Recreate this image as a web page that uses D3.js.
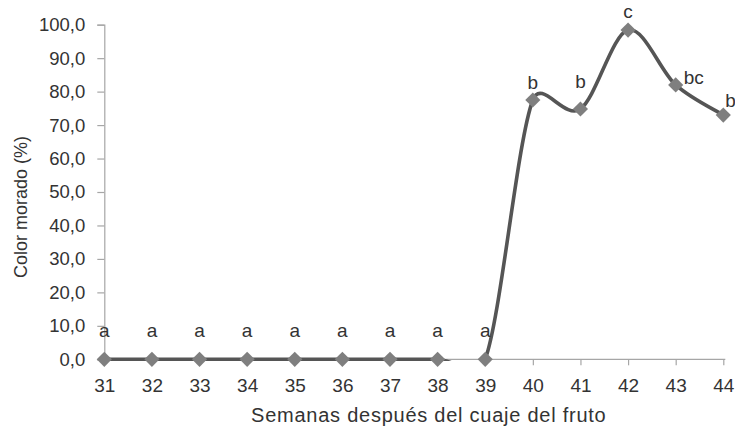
<!DOCTYPE html>
<html>
<head>
<meta charset="utf-8">
<script src="https://cdn.jsdelivr.net/npm/d3@7/dist/d3.min.js"></script>
<style>
  html, body { margin: 0; padding: 0; background: #fff; }
  svg { display: block; font-family: "Liberation Sans", Arial, sans-serif; }
</style>
</head>
<body>
<svg id="chart" width="735" height="426"></svg>
<script>
// ---- data ----
const weeks = [31, 32, 33, 34, 35, 36, 37, 38, 39, 40, 41, 42, 43, 44];
const colorMorado = [0, 0, 0, 0, 0, 0, 0, 0, 0, 77.5, 74.8, 98.4, 82.0, 73.0];
const letters = ["a", "a", "a", "a", "a", "a", "a", "a", "a", "b", "b", "c", "bc", "b"];
const yTicks = [0, 10, 20, 30, 40, 50, 60, 70, 80, 90, 100];
const yTitle = "Color morado (%)";
const xTitle = "Semanas después del cuaje del fruto";

// ---- label placement (style) ----
const labelDx = [0, 0, 0, 0, 0, 0, 0, 0, 0, 0, 0, 0, 8, 2];
const labelDy = [-22, -22, -22, -22, -22, -22, -22, -22, -22, -11, -21, -12, -1, -8];
const labelAnchor = ["middle","middle","middle","middle","middle","middle","middle","middle","middle","middle","middle","middle","start","start"];

const svg = d3.select("#chart");
const x0 = 104.3, x1 = 723.3, yTop = 24.7, yBot = 359.3;

const x = d3.scalePoint().domain(weeks).range([x0, x1]);
const y = d3.scaleLinear().domain([0, 100]).range([yBot, yTop]);

const axisColor = "#a6a6a6";
const textColor = "#333";
const fontFam = "'Liberation Sans', Arial, sans-serif";

// y axis
const yAxis = svg.append("g")
  .attr("transform", `translate(${x0},0)`)
  .call(d3.axisLeft(y).tickValues(yTicks).tickSize(7).tickPadding(12)
    .tickFormat(d => d3.format(".1f")(d).replace(".", ",")));
yAxis.select(".domain").attr("stroke", axisColor).attr("stroke-width", 1.2);
yAxis.selectAll(".tick line").attr("stroke", axisColor).attr("stroke-width", 1.2);
yAxis.selectAll(".tick text").attr("fill", textColor).style("font-size", "18.5px")
  .style("font-family", fontFam);

// x axis
const xAxis = svg.append("g")
  .attr("transform", `translate(0,${yBot})`)
  .call(d3.axisBottom(x).tickSize(6).tickSizeOuter(0).tickPadding(13));
xAxis.select(".domain").attr("stroke", axisColor).attr("stroke-width", 1.2)
  .attr("d", `M${x0},0H${x1 + 2}`);
xAxis.selectAll(".tick line").attr("stroke", axisColor).attr("stroke-width", 1.2);
xAxis.selectAll(".tick text").attr("fill", textColor).style("font-size", "19px")
  .style("font-family", fontFam);

// clip for line
svg.append("defs").append("clipPath").attr("id", "plotclip")
  .append("rect").attr("x", 0).attr("y", 0).attr("width", 735).attr("height", yBot + 1.8);

const pts = weeks.map((w, i) => ({ w, v: colorMorado[i], l: letters[i], i }));

// Excel-style smoothed line (Bezier with limited control arms), in pixel space
function excelSmooth(points) {
  const P = points.map(d => [x(d.w), y(d.v)]);
  const p = d3.path();
  const dist = (a, b) => Math.hypot(a[0] - b[0], a[1] - b[1]);
  const f = 1 / 6;
  p.moveTo(P[0][0], P[0][1]);
  for (let i = 0; i < P.length - 1; i++) {
    const p0 = P[Math.max(i - 1, 0)], p1 = P[i], p2 = P[i + 1], p3 = P[Math.min(i + 2, P.length - 1)];
    const d12 = dist(p1, p2), d02 = dist(p0, p2), d13 = dist(p1, p3);
    let f1 = f, f2 = f;
    if (d02 * f > d12 / 2 && d02 > 0) f1 = d12 / (2 * d02);
    if (d13 * f > d12 / 2 && d13 > 0) f2 = d12 / (2 * d13);
    const c1 = [p1[0] + f1 * (p2[0] - p0[0]), p1[1] + f1 * (p2[1] - p0[1])];
    const c2 = [p2[0] - f2 * (p3[0] - p1[0]), p2[1] - f2 * (p3[1] - p1[1])];
    p.bezierCurveTo(c1[0], c1[1], c2[0], c2[1], p2[0], p2[1]);
  }
  return p.toString();
}

svg.append("path")
  .attr("clip-path", "url(#plotclip)")
  .attr("fill", "none")
  .attr("stroke", "#555555")
  .attr("stroke-width", 3.6)
  .attr("stroke-linejoin", "round")
  .attr("d", excelSmooth(pts));

// markers (diamonds)
svg.append("g").selectAll("path")
  .data(pts)
  .join("path")
  .attr("transform", d => `translate(${x(d.w)},${y(d.v)}) rotate(45)`)
  .attr("d", d3.symbol().type(d3.symbolSquare).size(115)())
  .attr("fill", "#7f7f7f");

// letters
svg.append("g").selectAll("text")
  .data(pts)
  .join("text")
  .attr("x", d => x(d.w) + labelDx[d.i])
  .attr("y", d => y(d.v) + labelDy[d.i])
  .attr("text-anchor", d => labelAnchor[d.i])
  .attr("fill", textColor)
  .style("font-size", "19px")
  .text(d => d.l);

// titles
svg.append("text")
  .attr("transform", `translate(27,${(yTop + yBot) / 2 + 15}) rotate(-90)`)
  .attr("text-anchor", "middle")
  .attr("fill", textColor)
  .style("font-size", "18px")
  .text(yTitle);

svg.append("text")
  .attr("x", (x0 + x1) / 2 + 15)
  .attr("y", 422)
  .attr("text-anchor", "middle")
  .attr("fill", textColor)
  .style("font-size", "20px")
  .style("letter-spacing", "0.75px")
  .text(xTitle);
</script>
</body>
</html>
